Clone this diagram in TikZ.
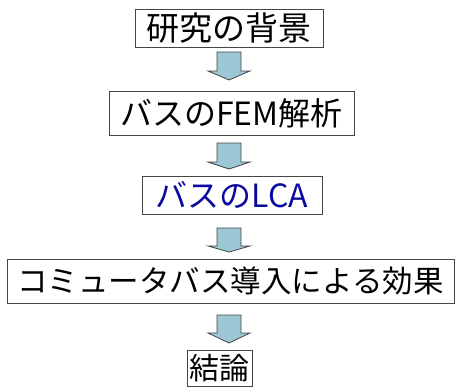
\documentclass[tikz,border=0pt]{standalone}
\usepackage{fontspec}
\newfontfamily\cjk{Noto Sans CJK JP}
\definecolor{arrowfill}{RGB}{155,200,212}
\definecolor{boxline}{RGB}{70,70,70}
\definecolor{lcablue}{RGB}{10,10,160}
\begin{document}
\begin{tikzpicture}[x=1pt,y=-1pt,
  stepbox/.style={draw=boxline,line width=1pt,inner sep=0pt,anchor=center,align=center},
  blockarrow/.style={draw=boxline,line width=0.8pt,fill=arrowfill,line join=miter}]
\useasboundingbox (0,0) rectangle (457,388);
\node[stepbox,minimum width=188,minimum height=38] (b1) at (229,28)
  {\cjk\fontsize{33}{33}\selectfont 研究の背景};
\node[stepbox,minimum width=245,minimum height=44] (b2) at (231.5,113)
  {\cjk\fontsize{32}{32}\selectfont バスのFEM解析};
\node[stepbox,minimum width=180,minimum height=38,text=lcablue] (b3) at (232,195)
  {\cjk\fontsize{32}{32}\selectfont バスのLCA};
\node[stepbox,minimum width=447,minimum height=44] (b4) at (230.5,281)
  {\cjk\fontsize{30.5}{30.5}\selectfont コミュータバス導入による効果};
\node[stepbox,minimum width=65,minimum height=36] (b5) at (219.5,368)
  {\cjk\fontsize{30}{30}\selectfont 結論};
\foreach \t/\h/\e in {52/71/80,143/162/169,228/246/252,315/333/343}{
  \draw[blockarrow] (217,\t) -- (241,\t) -- (241,\h) -- (250,\h) -- (229,\e)
    -- (208,\h) -- (217,\h) -- cycle;
}
\end{tikzpicture}
\end{document}
